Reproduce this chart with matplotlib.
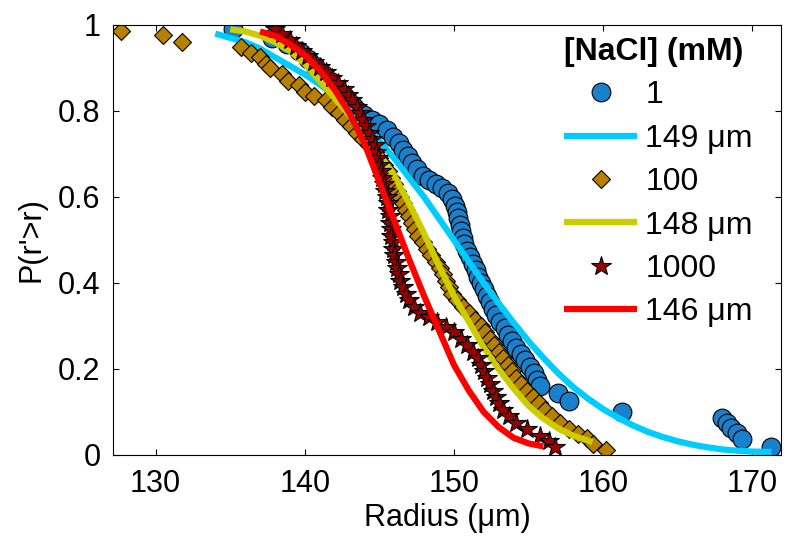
import matplotlib
matplotlib.use("Agg")
import matplotlib.pyplot as plt

plt.rcParams['font.family'] = ['Liberation Sans', 'DejaVu Sans']

# ---- data ----
r_1mM = [135.2, 137.8, 138.8, 139.6, 140.2, 140.7, 141.2, 141.7, 142.2, 142.6,
         143.0, 143.3, 143.6, 144.0, 144.5, 145.0, 145.5, 145.9, 146.3, 146.6,
         146.9, 147.2, 147.5, 147.9, 148.3, 148.8, 149.2, 149.6, 149.9, 150.1,
         150.2, 150.3, 150.4, 150.5, 150.6, 150.7, 150.9, 151.1, 151.3, 151.5,
         151.6, 151.8, 152.0, 152.2, 152.4, 152.6, 152.8, 153.1, 153.4, 153.6,
         153.9, 154.2, 154.5, 154.8, 155.1, 155.4, 155.6, 155.8, 157.0, 157.7,
         161.3, 168.0, 168.3, 168.6, 169.0, 169.3, 171.3]
p_1mM = [0.99, 0.97, 0.955, 0.94, 0.92, 0.905, 0.885, 0.87, 0.85, 0.835,
         0.82, 0.81, 0.80, 0.79, 0.78, 0.77, 0.755, 0.74, 0.725, 0.71,
         0.695, 0.68, 0.665, 0.65, 0.64, 0.63, 0.62, 0.61, 0.595, 0.58,
         0.565, 0.55, 0.535, 0.52, 0.505, 0.49, 0.475, 0.46, 0.445, 0.43,
         0.415, 0.40, 0.385, 0.37, 0.355, 0.34, 0.325, 0.31, 0.295, 0.28,
         0.265, 0.25, 0.235, 0.22, 0.205, 0.19, 0.175, 0.16, 0.145, 0.125,
         0.10, 0.086, 0.074, 0.063, 0.051, 0.037, 0.019]

fit_r_1mM = [134.0, 135, 136, 137, 138, 139, 140, 141, 142, 143, 144, 145, 146,
             147, 148, 149, 150, 151, 152, 153, 154, 155, 156, 157, 158, 159,
             160, 161, 162, 163, 164, 165, 166, 167, 168, 169, 170, 171.3]
fit_p_1mM = [0.98, 0.97, 0.96, 0.945, 0.925, 0.905, 0.885, 0.862, 0.835, 0.805,
             0.77, 0.73, 0.69, 0.645, 0.60, 0.55, 0.50, 0.45, 0.40, 0.353,
             0.308, 0.265, 0.226, 0.19, 0.158, 0.131, 0.107, 0.087, 0.069,
             0.054, 0.042, 0.032, 0.024, 0.018, 0.013, 0.010, 0.008, 0.007]

r_100mM = [127.7, 130.5, 131.75, 135.7, 136.4, 137.0, 137.4, 137.7, 138.5, 138.9,
           139.6, 140.0, 140.6, 141.4, 141.8, 142.3, 142.7, 143.1, 143.5, 143.9,
           144.3, 144.7, 145.0, 145.3, 145.6, 145.8, 146.0, 146.2, 146.4, 146.6,
           146.8, 147.0, 147.2, 147.4, 147.6, 147.9, 148.2, 148.5, 148.8, 149.1,
           149.3, 149.5, 149.7, 149.9, 150.2, 150.6, 151.0, 151.4, 151.8, 152.1,
           152.4, 152.7, 153.0, 153.3, 153.6, 153.9, 154.2, 154.5, 154.9, 155.3,
           155.7, 156.1, 156.6, 157.1, 157.7, 158.3, 158.9, 159.3, 160.2]
p_100mM = [0.985, 0.977, 0.96, 0.95, 0.935, 0.925, 0.91, 0.90, 0.885, 0.87,
           0.86, 0.845, 0.835, 0.825, 0.81, 0.795, 0.78, 0.765, 0.75, 0.735,
           0.72, 0.705, 0.69, 0.675, 0.66, 0.645, 0.63, 0.615, 0.60, 0.585,
           0.57, 0.555, 0.54, 0.525, 0.51, 0.495, 0.48, 0.465, 0.45, 0.435,
           0.42, 0.405, 0.39, 0.375, 0.36, 0.345, 0.33, 0.315, 0.30, 0.285,
           0.27, 0.255, 0.24, 0.225, 0.21, 0.195, 0.18, 0.165, 0.15, 0.135,
           0.12, 0.105, 0.09, 0.075, 0.06, 0.05, 0.04, 0.025, 0.012]

fit_r_100mM = [135.0, 136, 137, 138, 139, 140, 141, 142, 143, 144, 145, 146, 147,
               148, 149, 150, 151, 152, 153, 154, 155, 156, 157, 158, 159.3]
fit_p_100mM = [0.99, 0.985, 0.975, 0.96, 0.94, 0.91, 0.87, 0.83, 0.79, 0.75,
               0.70, 0.65, 0.585, 0.515, 0.44, 0.37, 0.31, 0.25, 0.20, 0.155,
               0.115, 0.085, 0.062, 0.045, 0.03]

r_1000mM = [138.0, 138.5, 139.0, 139.4, 139.8, 140.2, 140.6, 141.0, 141.4, 141.8,
            142.2, 142.6, 142.9, 143.2, 143.5, 143.7, 143.9, 144.1, 144.3, 144.5,
            144.7, 144.8, 144.9, 145.0, 145.1, 145.2, 145.3, 145.4, 145.5, 145.6,
            145.6, 145.7, 145.7, 145.8, 145.8, 145.9, 145.9, 146.0, 146.1, 146.2,
            146.3, 146.4, 146.6, 146.8, 147.0, 147.3, 147.7, 148.3, 148.9, 149.5,
            150.0, 150.5, 150.9, 151.3, 151.6, 151.8, 152.0, 152.2, 152.4, 152.6,
            152.8, 153.0, 153.3, 153.7, 154.2, 154.9, 155.8, 156.4, 156.8]
p_1000mM = [0.99, 0.978, 0.965, 0.952, 0.94, 0.927, 0.915, 0.902, 0.89, 0.877,
            0.864, 0.851, 0.838, 0.825, 0.81, 0.795, 0.78, 0.765, 0.75, 0.735,
            0.72, 0.705, 0.69, 0.675, 0.66, 0.645, 0.63, 0.615, 0.60, 0.585,
            0.57, 0.555, 0.54, 0.525, 0.51, 0.495, 0.48, 0.465, 0.45, 0.435,
            0.42, 0.405, 0.39, 0.375, 0.36, 0.345, 0.33, 0.32, 0.31, 0.298,
            0.285, 0.27, 0.255, 0.24, 0.225, 0.21, 0.195, 0.18, 0.165, 0.15,
            0.135, 0.12, 0.105, 0.09, 0.075, 0.06, 0.045, 0.032, 0.018]

fit_r_1000mM = [137.0, 138, 139, 140, 141, 142, 143, 144, 145, 146, 147, 148,
                149, 150, 151, 152, 153, 154, 155, 156]
fit_p_1000mM = [0.985, 0.975, 0.955, 0.93, 0.895, 0.85, 0.795, 0.725, 0.635,
                0.545, 0.455, 0.37, 0.29, 0.21, 0.15, 0.10, 0.065, 0.04, 0.027,
                0.02]

labels = ['1', '149 μm', '100', '148 μm', '1000', '146 μm']
legend_title = '[NaCl] (mM)'
xticks = [130, 140, 150, 160, 170]
yticks = [0, 0.2, 0.4, 0.6, 0.8, 1]
ytick_labels = ['0', '0.2', '0.4', '0.6', '0.8', '1']

# ---- figure ----
fig = plt.figure(figsize=(7.86, 5.39), dpi=100)
W, H = 786, 539
ax = fig.add_axes([113 / W, (H - 455) / H, (781 - 113) / W, (455 - 25) / H])

FS = 22
LFS = 23
ms_kw = dict(markeredgecolor='black', markeredgewidth=0.8, linestyle='none')
ax.plot(r_1mM, p_1mM, marker='o', markersize=13.5, markerfacecolor=(0.1, 0.5, 0.8),
        label=labels[0], **ms_kw)
ax.plot(fit_r_1mM, fit_p_1mM, color=(0.0, 0.8, 1.0), lw=4.5, label=labels[1],
        solid_capstyle='butt')
ax.plot(r_100mM, p_100mM, marker='D', markersize=9.5, markerfacecolor=(0.72, 0.5, 0.0),
        label=labels[2], **ms_kw)
ax.plot(fit_r_100mM, fit_p_100mM, color=(0.8, 0.8, 0.0), lw=4.5, label=labels[3],
        solid_capstyle='butt')
ax.plot(r_1000mM, p_1000mM, marker='*', markersize=15, markerfacecolor=(0.6, 0.0, 0.0),
        label=labels[4], **ms_kw)
ax.plot(fit_r_1000mM, fit_p_1000mM, color=(1.0, 0.0, 0.0), lw=4.5, label=labels[5],
        solid_capstyle='butt')

ax.set_xlim(127.14, 171.94)
ax.set_ylim(0, 1)
ax.set_xticks(xticks)
ax.set_xticklabels([str(t) for t in xticks])
ax.set_yticks(yticks)
ax.set_yticklabels(ytick_labels)
ax.tick_params(direction='in', length=4.5, width=0.8, top=True, right=True,
               labelsize=FS)
ax.tick_params(axis='x', pad=10)
ax.tick_params(axis='y', pad=9)
for s in ax.spines.values():
    s.set_linewidth(0.8)
ax.set_xlabel('Radius (μm)', fontsize=FS, labelpad=3)
ax.set_ylabel("P(r'>r)", fontsize=FS, labelpad=8)

leg = ax.legend(loc='upper left', bbox_to_anchor=(564 / W, 1 - 37 / H),
                bbox_transform=fig.transFigure, frameon=False, fontsize=LFS,
                title=legend_title, title_fontproperties={'weight': 'bold', 'size': LFS},
                alignment='left', borderpad=0, borderaxespad=0,
                handlelength=2.3, handletextpad=0.25, labelspacing=0.42, markerscale=1.0)

fig.savefig('out.png', dpi=100)
